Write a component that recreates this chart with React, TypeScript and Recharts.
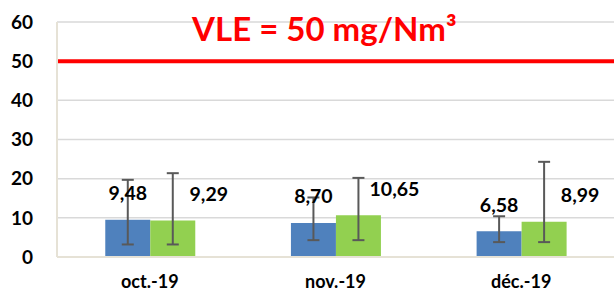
import { BarChart, Bar, XAxis, YAxis, CartesianGrid, ReferenceLine, ErrorBar, LabelList } from 'recharts'

const months = ['oct.-19', 'nov.-19', 'déc.-19']
const blueValues = [9.48, 8.7, 6.58]
const blueMin = [3.2, 4.3, 3.8]
const blueMax = [19.7, 15.2, 10.4]
const greenValues = [9.29, 10.65, 8.99]
const greenMin = [3.2, 4.3, 3.8]
const greenMax = [21.4, 20.2, 24.3]
const yTicks = [0, 10, 20, 30, 40, 50, 60]
const limitValue = 50
const limitText = 'VLE = 50 mg/Nm³'

const data = months.map((m, i) => ({
  name: m,
  blue: blueValues[i],
  blueErr: [blueValues[i] - blueMin[i], blueMax[i] - blueValues[i]],
  green: greenValues[i],
  greenErr: [greenValues[i] - greenMin[i], greenMax[i] - greenValues[i]],
}))

const font = 'Lato, "Open Sans", sans-serif'
const fmt = (v: number) => v.toFixed(2).replace('.', ',')

// value labels sit above the bar; the green ones are pushed to the right of the error bar
function makeLabel(dx: number) {
  return (props: any) => {
    const { x, y, width, value } = props
    return (
      <text
        x={x + width / 2 + dx}
        y={y - 27}
        textAnchor="middle"
        dominantBaseline="central"
        fontFamily={font}
        fontWeight={700}
        fontSize={19.5}
        fill="#000"
      >
        {fmt(value)}
      </text>
    )
  }
}

function LimitLabel(props: any) {
  const { viewBox } = props
  return (
    <text
      x={viewBox.x + viewBox.width / 2 - 11}
      y={viewBox.y - 20}
      textAnchor="middle"
      fontFamily={font}
      fontWeight={700}
      fontSize={33}
      fill="#FF0000"
    >
      {limitText}
    </text>
  )
}

export default function App() {
  return (
    <div style={{ position: 'absolute', left: 0, top: 0, background: '#fff' }}>
      <BarChart
        width={614}
        height={293}
        data={data}
        margin={{ top: 22, right: 0, bottom: 0, left: 0 }}
        barCategoryGap="26%"
        barGap={0}
      >
        <CartesianGrid vertical={false} stroke="#D9D9D9" strokeWidth={1.5} />
        <XAxis
          dataKey="name"
          height={36}
          axisLine={{ stroke: '#E6E2D6', strokeWidth: 2 }}
          tickLine={false}
          tickSize={0}
          tickMargin={18}
          tick={{ fill: '#000', fontSize: 18, fontWeight: 700, fontFamily: font }}
        />
        <YAxis
          width={57}
          domain={[0, 60]}
          ticks={yTicks}
          interval={0}
          axisLine={{ stroke: '#E6E2D6', strokeWidth: 2 }}
          tickLine={false}
          tickSize={0}
          tickMargin={24}
          tick={{ fill: '#000', fontSize: 19, fontWeight: 700, fontFamily: font }}
        />
        <ReferenceLine y={limitValue} stroke="#FF0000" strokeWidth={4} label={<LimitLabel />} />
        <Bar dataKey="blue" fill="#4F81BD" isAnimationActive={false}>
          <ErrorBar dataKey="blueErr" width={6} stroke="#595959" strokeWidth={2} />
          <LabelList dataKey="blue" content={makeLabel(0)} />
        </Bar>
        <Bar dataKey="green" fill="#92D050" isAnimationActive={false}>
          <ErrorBar dataKey="greenErr" width={6} stroke="#595959" strokeWidth={2} />
          <LabelList dataKey="green" content={makeLabel(36)} />
        </Bar>
      </BarChart>
    </div>
  )
}
